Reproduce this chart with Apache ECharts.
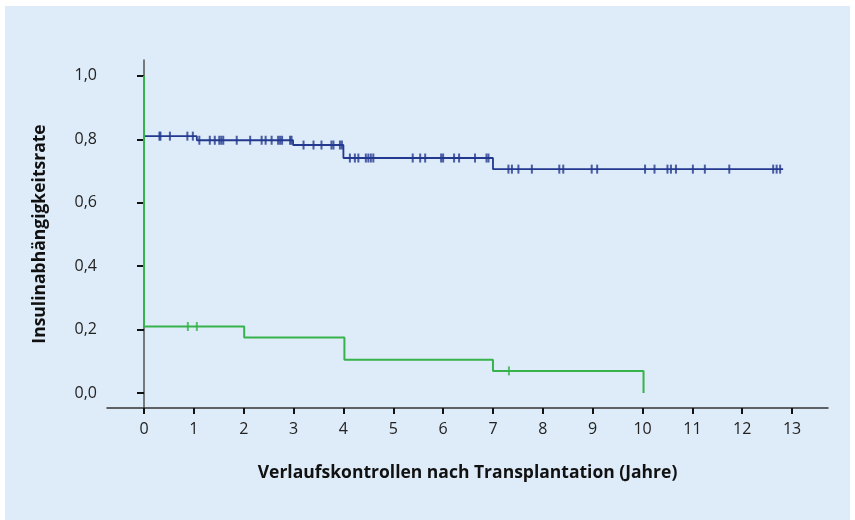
<!DOCTYPE html>
<html>
<head>
<meta charset="utf-8">
<script src="https://cdn.jsdelivr.net/npm/echarts@6/dist/echarts.min.js"></script>
<style>
  html, body { margin: 0; padding: 0; background: #fff; }
  #panel { position: absolute; left: 5px; top: 6px; width: 845px; height: 514px; background: #deebf8; }
  #main { position: absolute; left: 0; top: 0; width: 855px; height: 520px; }
</style>
</head>
<body>
<div id="panel"></div>
<div id="main"></div>
<script>
// Kaplan-Meier Stufen (Zeit in Jahren, Rate)
let blueTimes = [0, 1.06, 2.99, 4.0, 7.0, 12.82];
let blueRate = [0.81, 0.797, 0.782, 0.741, 0.706, 0.706];
let greenTimes = [0, 0, 2.01, 4.02, 7.0, 10.02];
let greenRate = [1.0, 0.21, 0.175, 0.105, 0.07, 0.0];

// zensierte Beobachtungen
let blueCensored = [0.31, 0.33, 0.52, 0.87, 0.98, 1.11, 1.32, 1.42, 1.51, 1.55, 1.59, 1.86,
  2.13, 2.36, 2.44, 2.56, 2.69, 2.73, 2.77, 2.93, 2.96, 3.2, 3.4, 3.56, 3.76, 3.8, 3.93, 3.97,
  4.13, 4.23, 4.3, 4.45, 4.5, 4.55, 4.6, 5.39, 5.54, 5.64, 5.96, 6.0, 6.22, 6.32, 6.64, 6.87,
  6.91, 7.31, 7.38, 7.51, 7.78, 8.33, 8.41, 8.98, 9.09, 10.05, 10.24, 10.5, 10.57, 10.67,
  11.01, 11.25, 11.74, 12.62, 12.69, 12.76];
let greenCensored = [0.88, 1.06, 7.32];

let xTicks = [0, 1, 2, 3, 4, 5, 6, 7, 8, 9, 10, 11, 12, 13];
let yTicks = [0, 0.2, 0.4, 0.6, 0.8, 1.0];

let blueColor = "#23388f";
let greenColor = "#36b34a";

// Wert der Stufenfunktion zum Zeitpunkt t
let rateAt = (times, rates, t) => {
  let v = rates[0];
  for (let i = 0; i < times.length; i++) {
    if (times[i] <= t) v = rates[i];
  }
  return v;
};

let myChart = echarts.init(document.getElementById("main"), null, { renderer: "canvas" });

let labelFont = { fontFamily: "Open Sans", fontSize: 16, color: "#222" };
let nameFont = { fontFamily: "Open Sans", fontSize: 17.5, fontWeight: "bold", color: "#111" };

let option = {
  animation: false,
  grid: { left: 107, right: 27, top: 60, bottom: 112 },
  xAxis: {
    type: "value",
    min: -0.742,
    max: 13.72,
    name: "Verlaufskontrollen nach Transplantation (Jahre)",
    nameLocation: "middle",
    nameGap: 56,
    nameTextStyle: nameFont,
    axisLine: { show: true, onZero: false, lineStyle: { color: "#333", width: 1.5 } },
    axisTick: { show: true, length: 6, customValues: xTicks, lineStyle: { color: "#111", width: 2 } },
    axisLabel: Object.assign({ margin: 13, customValues: xTicks }, labelFont),
    splitLine: { show: false },
  },
  yAxis: {
    type: "value",
    min: -0.047,
    max: 1.05,
    name: "Insulinabhängigkeitsrate",
    nameLocation: "middle",
    nameGap: 58,
    nameTextStyle: nameFont,
    axisLine: { show: true, lineStyle: { color: "#555", width: 1.5 } },
    axisTick: { show: true, length: 7, customValues: yTicks, lineStyle: { color: "#111", width: 2 } },
    axisLabel: Object.assign({
      margin: 10,
      customValues: yTicks,
      formatter: (v) => v.toFixed(1).replace(".", ","),
    }, labelFont),
    splitLine: { show: false },
  },
  series: [
    {
      name: "blau",
      type: "line",
      step: "end",
      showSymbol: false,
      data: blueTimes.map((t, i) => [t, blueRate[i]]),
      lineStyle: { color: blueColor, width: 1.8 },
      z: 2,
    },
    {
      name: "blau zensiert",
      type: "scatter",
      symbol: "rect",
      symbolSize: [2, 9],
      itemStyle: { color: blueColor },
      data: blueCensored.map((t) => [t, rateAt(blueTimes, blueRate, t)]),
      z: 3,
    },
    {
      name: "grün",
      type: "line",
      step: "end",
      showSymbol: false,
      data: greenTimes.map((t, i) => [t, greenRate[i]]),
      lineStyle: { color: greenColor, width: 2 },
      z: 4,
    },
    {
      name: "grün zensiert",
      type: "scatter",
      symbol: "rect",
      symbolSize: [2, 9],
      itemStyle: { color: greenColor },
      data: greenCensored.map((t) => [t, rateAt(greenTimes, greenRate, t)]),
      z: 5,
    },
  ],
};

myChart.setOption(option);
</script>
</body>
</html>
